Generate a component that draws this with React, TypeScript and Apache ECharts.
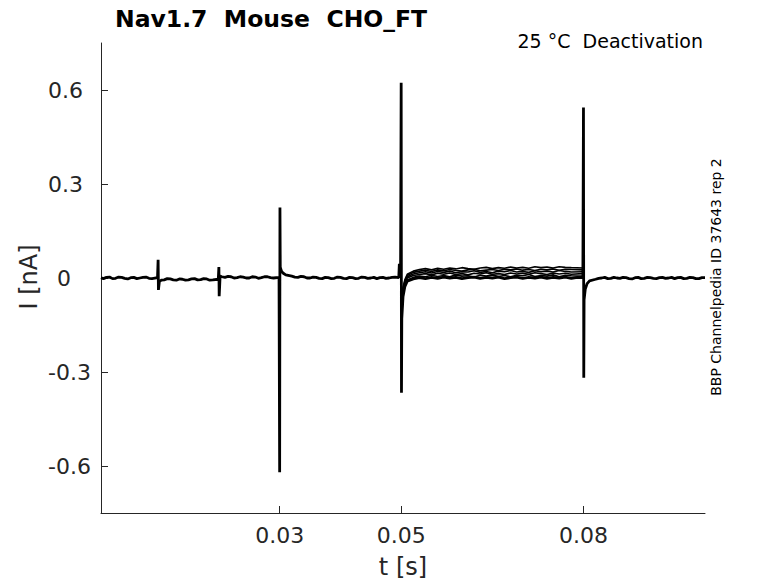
import React, { useEffect, useRef } from "react";
import * as echarts from "echarts";

// ---- Data (time in s, current in nA) ----
const xTickValues = [0.03, 0.05, 0.08];
const yTickValues = [-0.6, -0.3, 0, 0.3, 0.6];

// Sweep shared by all traces (holding, transients and tails)
const mainTrace: [number, number][] = [
  [0.0006, 0.001], [0.001, -0.002], [0.0015, 0.002], [0.002, 0.003], [0.0025, -0.002], [0.003, -0.001], [0.0035, 0.003], [0.004, 0.002],
  [0.0045, -0.001], [0.005, -0.003], [0.0055, 0.001], [0.006, 0.002], [0.0065, -0.002], [0.007, 0.0], [0.0075, 0.002], [0.008, 0.003], [0.0085, -0.001], [0.009, -0.002],
  [0.0099, 0.001], [0.01, 0.058], [0.01005, -0.038], [0.0102, -0.012], [0.0105, -0.007],
  [0.011, -0.006], [0.0115, -0.002], [0.012, -0.003], [0.0125, -0.006], [0.013, -0.007], [0.0135, -0.003], [0.014, -0.004], [0.0145, -0.007], [0.015, -0.006],
  [0.0155, -0.003], [0.016, -0.002], [0.0165, -0.006], [0.017, -0.005], [0.0175, -0.002], [0.018, -0.003], [0.0185, -0.007], [0.019, -0.006], [0.0199, -0.004],
  [0.02, 0.035], [0.02005, -0.058], [0.0202, 0.006], [0.0205, 0.004],
  [0.021, 0.002], [0.0215, 0.005], [0.022, 0.004], [0.0225, 0.0], [0.023, 0.001], [0.0235, 0.004], [0.024, 0.003], [0.0245, 0.0], [0.025, 0.0],
  [0.0255, 0.004], [0.026, 0.003], [0.0265, -0.001], [0.027, 0.001], [0.0275, 0.004], [0.028, 0.004], [0.0285, 0.001], [0.029, 0.0], [0.0299, 0.002],
  [0.03, -0.62], [0.03005, 0.225], [0.0301, 0.035], [0.0303, 0.022], [0.0306, 0.015],
  [0.031, 0.01], [0.032, 0.006], [0.0325, 0.003], [0.033, 0.002], [0.0335, 0.005], [0.034, 0.004], [0.0345, 0.0], [0.035, 0.0],
  [0.0355, 0.003], [0.036, 0.002], [0.0365, -0.001], [0.037, -0.002], [0.0375, 0.002], [0.038, 0.001], [0.0385, -0.002], [0.039, -0.001], [0.0395, 0.003], [0.04, 0.002],
  [0.0405, -0.001], [0.041, -0.002], [0.0415, 0.002], [0.042, 0.001], [0.0425, -0.002], [0.043, -0.001], [0.0435, 0.003], [0.044, 0.002], [0.0445, -0.001], [0.045, 0.0],
  [0.0455, 0.002], [0.046, -0.002], [0.0465, 0.001], [0.047, 0.002], [0.0475, -0.001], [0.048, 0.0], [0.0485, 0.002], [0.049, 0.003], [0.0496, 0.001],
  [0.0497, 0.045], [0.0499, 0.025],
  [0.05, 0.623], [0.05005, -0.366], [0.0501, -0.13], [0.0503, -0.06], [0.0506, -0.028],
  [0.051, -0.01], [0.052, -0.003], [0.053, 0.001], [0.054, -0.002], [0.055, 0.002],
  [0.056, -0.001], [0.057, 0.003], [0.058, 0.0], [0.059, 0.002], [0.06, -0.002],
  [0.061, 0.001], [0.062, 0.003], [0.063, -0.001], [0.064, 0.002], [0.065, 0.0],
  [0.066, 0.003], [0.067, -0.002], [0.068, 0.001], [0.069, 0.003], [0.07, -0.001],
  [0.071, 0.002], [0.072, 0.0], [0.073, 0.003], [0.074, -0.001], [0.075, 0.002],
  [0.076, 0.0], [0.077, 0.003], [0.078, -0.001], [0.079, 0.002], [0.0799, 0.001],
  [0.08, 0.544], [0.08005, -0.318], [0.0801, -0.07], [0.0803, -0.035], [0.0806, -0.018],
  [0.081, -0.009], [0.082, -0.004], [0.0825, -0.001], [0.083, 0.0], [0.0835, 0.002], [0.084, -0.002], [0.0845, -0.001], [0.085, 0.002],
  [0.0855, 0.0], [0.086, -0.001], [0.0865, 0.002], [0.087, 0.001], [0.0875, -0.002], [0.088, -0.003], [0.0885, 0.001], [0.089, 0.002], [0.0895, -0.002], [0.09, -0.001],
  [0.0905, 0.002], [0.091, 0.001], [0.0915, -0.001], [0.092, -0.002], [0.0925, 0.001], [0.093, 0.002], [0.0935, -0.001], [0.094, 0.0], [0.0945, 0.002], [0.095, -0.002],
  [0.0955, 0.001], [0.096, 0.002], [0.0965, -0.002], [0.097, -0.001], [0.0975, 0.002], [0.098, 0.001], [0.0985, -0.002], [0.099, -0.002], [0.0995, 0.001], [0.1, 0.001],
];

// Test-pulse segment (0.05 - 0.08 s), sweeps that differ from the main one
const plateauTimes = [
  0.0501, 0.0503, 0.0506, 0.051, 0.052, 0.053, 0.054, 0.055, 0.056, 0.057,
  0.058, 0.059, 0.06, 0.061, 0.062, 0.063, 0.064, 0.065, 0.066, 0.067,
  0.068, 0.069, 0.07, 0.071, 0.072, 0.073, 0.074, 0.075, 0.076, 0.077,
  0.078, 0.0799,
];
const sweepB = [
  -0.12, -0.05, -0.022, -0.006, 0.002, 0.006, 0.004, 0.009, 0.005, 0.008,
  0.004, 0.01, 0.006, 0.007, 0.003, 0.009, 0.006, 0.01, 0.005, 0.008,
  0.004, 0.009, 0.007, 0.011, 0.005, 0.008, 0.006, 0.01, 0.004, 0.009,
  0.007, 0.006,
];
const sweepC = [
  -0.11, -0.045, -0.018, 0.0, 0.008, 0.011, 0.014, 0.01, 0.015, 0.012,
  0.016, 0.011, 0.014, 0.01, 0.015, 0.013, 0.017, 0.012, 0.014, 0.011,
  0.016, 0.013, 0.015, 0.012, 0.017, 0.014, 0.011, 0.016, 0.013, 0.015,
  0.012, 0.014,
];
const sweepD = [
  -0.1, -0.04, -0.014, 0.004, 0.013, 0.017, 0.02, 0.016, 0.021, 0.018,
  0.022, 0.017, 0.02, 0.019, 0.023, 0.018, 0.021, 0.017, 0.022, 0.02,
  0.024, 0.019, 0.021, 0.018, 0.023, 0.02, 0.022, 0.019, 0.024, 0.021,
  0.019, 0.02,
];
const sweepE = [
  -0.09, -0.035, -0.01, 0.008, 0.018, 0.022, 0.025, 0.021, 0.026, 0.023,
  0.027, 0.024, 0.022, 0.026, 0.028, 0.023, 0.025, 0.027, 0.024, 0.028,
  0.026, 0.029, 0.025, 0.027, 0.024, 0.028, 0.026, 0.029, 0.025, 0.028,
  0.027, 0.026,
];
const sweepF = [
  -0.08, -0.03, -0.006, 0.012, 0.022, 0.027, 0.03, 0.026, 0.031, 0.028,
  0.032, 0.029, 0.033, 0.03, 0.028, 0.032, 0.034, 0.03, 0.033, 0.031,
  0.035, 0.032, 0.034, 0.031, 0.036, 0.033, 0.035, 0.032, 0.036, 0.034,
  0.033, 0.032,
];

const FONT = '"DejaVu Sans", sans-serif';
const AX = "#262626";

export default function App() {
  const ref = useRef<HTMLDivElement>(null);
  useEffect(() => {
    if (!ref.current) return;
    const chart = echarts.init(ref.current, undefined, { renderer: "svg" });
    const sweeps = [sweepB, sweepC, sweepD, sweepE, sweepF];
    const plateauSeries = sweeps.map((vals, i) => ({
      type: "line",
      name: "sweep" + i,
      data: plateauTimes.map((t, k) => [t, vals[k]]),
      showSymbol: false,
      symbol: "none",
      lineStyle: { color: "#000", width: 1.6 },
      silent: true,
    }));
    chart.setOption({
      animation: false,
      grid: { left: 101, top: 43, width: 604, height: 470, containLabel: false },
      xAxis: {
        type: "value",
        min: 0.0006,
        max: 0.1,
        axisLine: { show: true, onZero: false, lineStyle: { color: AX, width: 1 } },
        axisTick: { show: true, inside: true, length: 7, customValues: xTickValues, lineStyle: { color: AX } },
        axisLabel: {
          customValues: xTickValues,
          formatter: (v: number) => String(v),
          fontSize: 22,
          color: AX,
          fontFamily: FONT,
          margin: 11,
        },
        splitLine: { show: false },
      },
      yAxis: {
        type: "value",
        min: -0.75,
        max: 0.75,
        axisLine: { show: true, onZero: false, lineStyle: { color: AX, width: 1 } },
        axisTick: { show: true, inside: true, length: 7, customValues: yTickValues, lineStyle: { color: AX } },
        axisLabel: {
          customValues: yTickValues,
          formatter: (v: number) => (v === 0 ? "{z|0}" : String(v)),
          fontSize: 22,
          color: AX,
          fontFamily: FONT,
          align: "left",
          margin: 53,
          rich: { z: { fontSize: 22, color: AX, fontFamily: FONT, padding: [0, 0, 0, 9] } },
        },
        splitLine: { show: false },
      },
      series: [
        {
          type: "line",
          name: "main",
          data: mainTrace,
          showSymbol: false,
          symbol: "none",
          lineStyle: { color: "#000", width: 2.8 },
          silent: true,
          z: 3,
        },
        ...plateauSeries,
      ],
      graphic: [
        {
          type: "text",
          x: 115,
          y: 19,
          style: { text: "Nav1.7  Mouse  CHO_FT", font: `bold 23.5px ${FONT}`, fill: "#000", textVerticalAlign: "middle" },
        },
        {
          type: "text",
          x: 703,
          y: 41,
          style: { text: "25 °C  Deactivation", font: `19px ${FONT}`, fill: "#000", textAlign: "right", textVerticalAlign: "middle" },
        },
        {
          type: "text",
          x: 716,
          y: 277,
          rotation: Math.PI / 2,
          style: { text: "BBP Channelpedia ID 37643 rep 2", font: `14px ${FONT}`, fill: "#000", textAlign: "center", textVerticalAlign: "middle" },
        },
        {
          type: "text",
          x: 29,
          y: 277,
          rotation: Math.PI / 2,
          style: { text: "I [nA]", font: `24px ${FONT}`, fill: AX, textAlign: "center", textVerticalAlign: "middle" },
        },
        {
          type: "text",
          x: 403,
          y: 567,
          style: { text: "t [s]", font: `24px ${FONT}`, fill: AX, textAlign: "center", textVerticalAlign: "middle" },
        },
      ],
    });
    return () => chart.dispose();
  }, []);
  return (
    <div
      ref={ref}
      style={{ position: "fixed", left: 0, top: 0, width: 778, height: 583, background: "#fff" }}
    />
  );
}
